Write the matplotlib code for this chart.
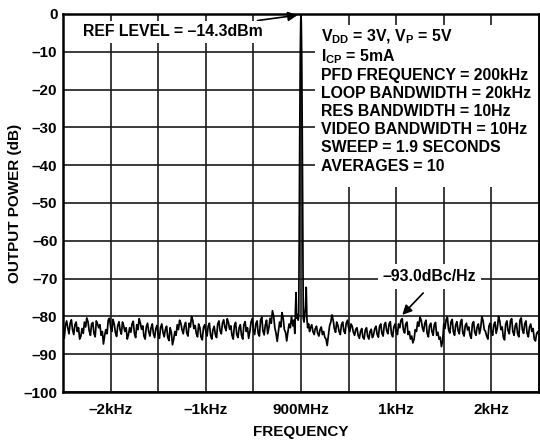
import numpy as np
import matplotlib
matplotlib.use("Agg")
import matplotlib.pyplot as plt
from matplotlib.patches import Rectangle

plt.rcParams['font.family'] = ['Liberation Sans', 'DejaVu Sans']
plt.rcParams['font.weight'] = 'bold'
plt.rcParams['mathtext.fontset'] = 'custom'
plt.rcParams['mathtext.rm'] = 'Liberation Sans:bold'
plt.rcParams['mathtext.it'] = 'Liberation Sans:bold'
plt.rcParams['mathtext.bf'] = 'Liberation Sans:bold'

# ---------------- data (Hz offset from 900MHz carrier, dB) ----------------
left_freq_hz = list(range(-2500, -99, 25))
left_level = [-84.5, -82.5, -83.0, -81.8, -83.5, -82.2, -84.0, -86.0, -83.2, -81.5,
              -80.4, -83.8, -82.0, -84.5, -81.2, -83.0, -85.0, -87.3, -83.5, -81.0,
              -82.8, -80.8, -84.2, -82.5, -83.6, -81.5, -84.0, -86.0, -83.0, -82.0,
              -84.5, -82.2, -80.6, -83.4, -85.2, -82.8, -84.0, -83.0, -84.6, -83.2,
              -84.8, -82.9, -84.2, -83.5, -85.5, -83.0, -87.5, -84.0, -82.2, -81.0,
              -83.5, -82.5, -84.4, -81.8, -80.0, -83.2, -84.5, -82.0, -85.5, -83.0,
              -84.0, -82.6, -85.0, -83.5, -84.8, -82.0, -83.8, -81.8, -82.8, -80.6,
              -83.4, -85.0, -82.5, -84.8, -83.0, -85.0, -82.2, -84.0, -85.8, -81.5,
              -83.6, -82.0, -84.5, -81.0, -83.8, -82.3, -84.6, -80.5, -78.5, -83.0,
              -86.6, -81.5, -79.0, -83.5, -86.5, -82.0, -80.0]
left_mid_freq_hz = list(range(-2487, -100, 25))
left_mid_level = [-85.8, -81.2, -84.6, -80.9, -84.8, -81.5, -83.0, -85.2, -84.5, -82.8,
                  -81.5, -85.0, -81.6, -85.4, -82.0, -82.2, -84.0, -85.0, -84.6, -80.5,
                  -84.0, -82.0, -85.3, -81.4, -84.7, -82.6, -83.0, -84.8, -84.2, -81.3,
                  -85.6, -83.5, -81.8, -82.5, -86.0, -81.8, -85.2, -82.0, -85.6, -82.4,
                  -85.8, -82.0, -85.4, -82.6, -86.4, -84.2, -86.0, -85.0, -83.5, -81.8,
                  -84.6, -81.6, -85.2, -82.8, -81.0, -82.4, -85.4, -83.0, -86.2, -82.2,
                  -85.2, -81.8, -86.0, -82.6, -85.6, -81.2, -84.6, -80.9, -83.8, -81.6,
                  -82.5, -86.0, -81.6, -85.6, -82.2, -86.0, -81.4, -83.0, -84.0, -80.6,
                  -84.8, -81.2, -85.2, -80.2, -84.9, -81.0, -83.0, -81.8, -80.0, -84.5,
                  -84.0, -82.8, -80.5, -84.2, -84.0, -83.0]

center_freq_hz = [-85, -75, -65, -58, -52, -46, -38, -30, -24, -19, -14, -8, -3, 0,
                  3, 8, 14, 19, 24, 32, 40, 47, 55, 62, 70, 80, 90]
center_level = [-82.5, -81.0, -84.5, -78.0, -73.7, -80.5, -79.5, -81.0, -80.0, -60.0,
                -35.0, -12.0, -2.0, 0.0, -2.0, -12.0, -35.0, -60.0, -80.5, -81.5,
                -79.5, -77.5, -72.3, -80.5, -83.0, -82.0, -84.0]

right_freq_hz = list(range(100, 2501, 25))
right_level = [-83.0, -84.0, -83.2, -84.5, -83.5, -84.8, -85.5, -87.7, -82.5, -79.6,
               -83.2, -81.5, -84.0, -82.2, -83.8, -81.8, -83.0, -82.0, -84.2, -83.4,
               -85.0, -84.0, -85.5, -83.6, -85.2, -84.0, -85.6, -83.2, -84.8, -82.6,
               -84.5, -82.2, -83.8, -82.0, -84.6, -82.8, -84.0, -82.0, -81.0, -83.5,
               -82.0, -84.8, -86.0, -87.0, -83.5, -81.5, -80.2, -83.0, -81.8, -84.5,
               -82.5, -84.0, -82.2, -85.0, -86.0, -88.0, -82.0, -80.8, -83.5, -81.5,
               -84.0, -82.2, -83.8, -81.6, -84.4, -82.5, -83.6, -85.0, -82.0, -84.2,
               -82.8, -84.6, -80.0, -83.5, -85.2, -82.5, -84.0, -82.2, -84.5, -80.0,
               -83.5, -85.5, -82.0, -83.8, -81.2, -84.0, -82.5, -84.6, -81.0, -83.5,
               -82.0, -84.5, -82.8, -84.0, -86.0, -84.5, -85.0]
right_mid_freq_hz = list(range(113, 2500, 25))
right_mid_level = [-82.2, -84.8, -82.6, -85.2, -82.8, -84.0, -86.0, -85.0, -81.5, -81.0,
                   -84.2, -82.4, -84.8, -81.5, -84.5, -81.0, -84.0, -82.6, -85.0, -83.0,
                   -85.8, -83.2, -86.0, -83.0, -86.0, -83.4, -84.8, -82.6, -85.5, -82.0,
                   -85.2, -81.6, -84.6, -81.4, -85.4, -82.0, -84.8, -83.0, -80.6, -84.4,
                   -81.5, -84.0, -85.2, -86.0, -84.0, -82.6, -81.0, -84.0, -81.0, -85.4,
                   -81.8, -85.0, -81.6, -84.2, -85.5, -86.5, -83.2, -80.2, -84.4, -80.8,
                   -85.0, -81.4, -84.6, -80.8, -85.2, -81.8, -82.8, -85.8, -81.4, -85.0,
                   -82.0, -83.0, -81.2, -84.0, -86.0, -81.8, -85.0, -81.5, -83.0, -81.2,
                   -82.8, -86.2, -81.2, -84.6, -80.6, -85.0, -81.8, -85.4, -80.4, -84.5,
                   -81.2, -85.4, -82.0, -83.2, -86.5, -84.0]

xtick_vals = [-2.5, -2.0, -1.5, -1.0, -0.5, 0.0, 0.5, 1.0, 1.5, 2.0, 2.5]
xtick_labels = ['', '\u20132kHz', '', '\u20131kHz', '', '900MHz', '', '1kHz', '', '2kHz', '']
ytick_vals = list(range(-100, 1, 10))
ytick_labels = ['0' if v == 0 else '\u2013%d' % (-v) for v in ytick_vals]

info_lines = [r'V$_{\mathrm{DD}}$ = 3V, V$_{\mathrm{P}}$ = 5V',
              r'I$_{\mathrm{CP}}$ = 5mA',
              'PFD FREQUENCY = 200kHz',
              'LOOP BANDWIDTH = 20kHz',
              'RES BANDWIDTH = 10Hz',
              'VIDEO BANDWIDTH = 10Hz',
              'SWEEP = 1.9 SECONDS',
              'AVERAGES = 10']

# ---------------- figure ----------------
fig = plt.figure(figsize=(5.4, 4.4), dpi=100)
ax = fig.add_axes([63/540, 1-392/440, (539-63)/540, (392-14)/440])

pairs = sorted(zip(left_freq_hz + left_mid_freq_hz + center_freq_hz + right_freq_hz + right_mid_freq_hz,
                   left_level + left_mid_level + center_level + right_level + right_mid_level))
freq = np.array([p[0] for p in pairs]) / 1000.0
level = np.array([p[1] for p in pairs])
ax.plot(freq, level, color='black', lw=1.25, zorder=3)

ax.set_xlim(-2.5, 2.5)
ax.set_ylim(-100, 0)
ax.set_xticks(xtick_vals)
ax.set_xticklabels(xtick_labels)
ax.set_yticks(ytick_vals)
ax.set_yticklabels(ytick_labels)
ax.tick_params(axis='y', length=0, labelsize=11, pad=4)
ax.tick_params(axis='x', length=0, labelsize=11, pad=8)
for lab in ax.get_xticklabels() + ax.get_yticklabels():
    lab.set_fontweight('bold')
ax.grid(True, color='#1a1a1a', lw=1.2, zorder=1)
ax.set_axisbelow(True)
for s in ax.spines.values():
    s.set_linewidth(1.8)
    s.set_color('black')

ax.set_xlabel('FREQUENCY', fontsize=11, fontweight='bold', va='center')
ax.xaxis.set_label_coords(0.5, -(432-392)/378)
ax.set_ylabel('OUTPUT POWER (dB)', fontsize=11, fontweight='bold', va='center')
ax.yaxis.set_label_coords((15-63)/476, 0.5)

# info box (white patch hiding grid)
ax.add_patch(Rectangle(((315-63)/476, (392-187)/378), (538-315)/476, (187-25)/378,
                       transform=ax.transAxes, facecolor='white', edgecolor='none', zorder=2))
baselines = [41.7, 61.7, 80.0, 97.7, 115.7, 134.0, 151.7, 170.7]
for txt, yb in zip(info_lines, baselines):
    ax.text((320.7-63)/476, (392-yb)/378, txt, transform=ax.transAxes, fontsize=11.4,
            fontweight='bold', ha='left', va='baseline', zorder=4)

# REF level annotation
ax.annotate('REF LEVEL = \u201314.3dBm', xy=(-0.037, -0.3), xytext=((83-63)/476, (392-32)/378),
            textcoords='axes fraction', fontsize=11.4, fontweight='bold', ha='left', va='center',
            bbox=dict(boxstyle='square,pad=0.25', fc='white', ec='none'),
            arrowprops=dict(arrowstyle='-|>', color='black', lw=1.2, mutation_scale=14,
                            shrinkA=0, shrinkB=0), zorder=4)

# noise annotation
ax.text(1.347, -69.5, '\u201393.0dBc/Hz', fontsize=11.4, fontweight='bold', ha='center', va='center',
        bbox=dict(boxstyle='square,pad=0.3', fc='white', ec='none'), zorder=4)
ax.annotate('', xy=(1.064, -79.6), xytext=(1.284, -73.8),
            arrowprops=dict(arrowstyle='-|>', color='black', lw=1.2, mutation_scale=14,
                            shrinkA=0, shrinkB=0), zorder=4)

fig.savefig('out.png', dpi=100, facecolor='white')
